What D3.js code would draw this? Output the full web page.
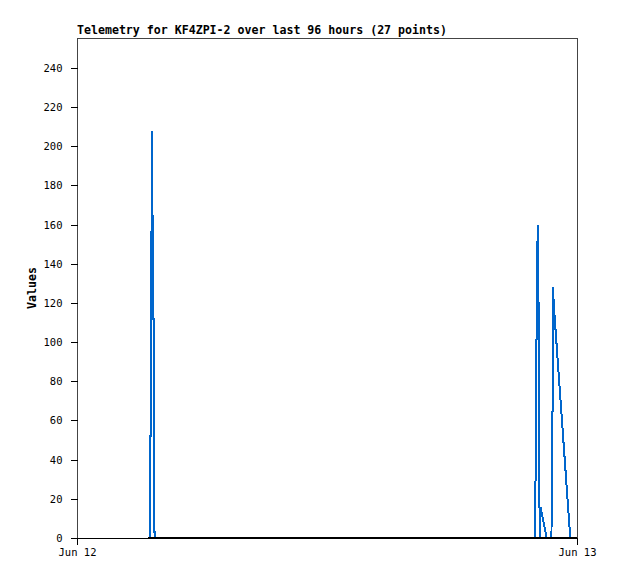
<!DOCTYPE html>
<html>
<head>
<meta charset="utf-8">
<script src="https://cdn.jsdelivr.net/npm/d3@7"></script>
<style>
  html, body { margin: 0; padding: 0; background: #fff; }
  svg { display: block; }
</style>
</head>
<body>
<script>
// ---- data ----
const title = "Telemetry for KF4ZPI-2 over last 96 hours (27 points)";
const yLabel = "Values";
const xDomain = ["2024-06-12T00:00:00", "2024-06-13T00:00:00"];
const xTickLabels = ["Jun 12", "Jun 13"];
const yTicks = [0, 20, 40, 60, 80, 100, 120, 140, 160, 180, 200, 220, 240];
const yMax = 255.3;

const blueTimes = [
  "2024-06-12T03:30:49", "2024-06-12T03:31:24", "2024-06-12T03:32:50", "2024-06-12T03:33:42",
  "2024-06-12T03:35:43", "2024-06-12T03:36:35", "2024-06-12T03:38:36", "2024-06-12T03:40:54",
  "2024-06-12T03:41:46", "2024-06-12T03:43:29", "2024-06-12T03:44:04",
  "2024-06-12T21:59:54", "2024-06-12T22:00:46", "2024-06-12T22:04:13", "2024-06-12T22:05:23",
  "2024-06-12T22:06:32", "2024-06-12T22:07:58", "2024-06-12T22:09:42", "2024-06-12T22:11:08",
  "2024-06-12T22:12:35", "2024-06-12T22:14:36", "2024-06-12T22:33:01", "2024-06-12T22:46:34",
  "2024-06-12T22:47:25", "2024-06-12T22:49:26", "2024-06-12T22:50:36", "2024-06-12T22:54:20",
  "2024-06-12T23:40:42"
];
const blueValues = [
  0, 52, 52, 156,
  156, 208, 112, 112,
  3, 3, 0,
  0, 40, 120, 120,
  160, 120, 120, 40,
  0, 16, 0, 0,
  60, 60, 128, 116,
  0
];
const zeroTimes = ["2024-06-12T03:24:29", "2024-06-13T00:00:00"];
const zeroValues = [0, 0];

// ---- layout ----
const W = 618, H = 579;
const mLeft = 77, mRight = 577, mTop = 38, mBottom = 538;

const parse = d3.isoParse;
const x = d3.scaleTime().domain(xDomain.map(parse)).range([mLeft, mRight]);
const y = d3.scaleLinear().domain([0, yMax]).range([mBottom, mTop]);

const svg = d3.select("body").append("svg").attr("width", W).attr("height", H);

const mono = "'DejaVu Sans Mono', 'Liberation Mono', monospace";

// border (top, left, right)
svg.append("rect")
  .attr("x", mLeft + 0.5).attr("y", mTop + 0.5)
  .attr("width", mRight - mLeft).attr("height", mBottom - mTop)
  .attr("fill", "none").attr("stroke", "#444").attr("stroke-width", 1)
  .attr("shape-rendering", "crispEdges");

// y axis
const yAxis = d3.axisLeft(y).tickValues(yTicks).tickSize(7).tickPadding(8).tickSizeOuter(0);
const gy = svg.append("g").attr("transform", `translate(${mLeft + 0.5},0)`).call(yAxis);
gy.select(".domain").remove();
gy.selectAll("line").attr("stroke", "#000").attr("shape-rendering", "crispEdges");
gy.selectAll("text").attr("font-family", mono).attr("font-size", 10.5).attr("fill", "#000");

// x axis
const xAxis = d3.axisBottom(x).tickValues(xDomain.map(parse))
  .tickFormat((d, i) => xTickLabels[i]).tickSize(7).tickPadding(4).tickSizeOuter(0);
const gx = svg.append("g").attr("transform", `translate(0,${mBottom})`).call(xAxis);
gx.select(".domain").attr("stroke", "#000").attr("shape-rendering", "crispEdges");
gx.selectAll("line").attr("stroke", "#000").attr("shape-rendering", "crispEdges");
gx.selectAll("text").attr("font-family", mono).attr("font-size", 10.5).attr("fill", "#000");

// blue data line
const blue = blueTimes.map((t, i) => ({ t: parse(t), v: blueValues[i] }));
const line = d3.line().x(d => x(d.t)).y(d => y(d.v)).curve(d3.curveLinear);
svg.append("path").datum(blue)
  .attr("d", line).attr("fill", "none")
  .attr("stroke", "#0066cc").attr("stroke-width", 2)
  .attr("stroke-linejoin", "miter")
  .attr("shape-rendering", "crispEdges");

// black zero series
const zero = zeroTimes.map((t, i) => ({ t: parse(t), v: zeroValues[i] }));
svg.append("path").datum(zero)
  .attr("d", line).attr("fill", "none")
  .attr("stroke", "#000").attr("stroke-width", 2)
  .attr("shape-rendering", "crispEdges");

// title
svg.append("text")
  .attr("x", mLeft).attr("y", 34)
  .attr("font-family", mono).attr("font-weight", "bold").attr("font-size", 11.6)
  .attr("fill", "#000").text(title);

// y label
svg.append("text")
  .attr("transform", `translate(36,${(mTop + mBottom) / 2}) rotate(-90)`)
  .attr("text-anchor", "middle")
  .attr("font-family", mono).attr("font-weight", "bold").attr("font-size", 11.6)
  .attr("fill", "#000").text(yLabel);
</script>
</body>
</html>
